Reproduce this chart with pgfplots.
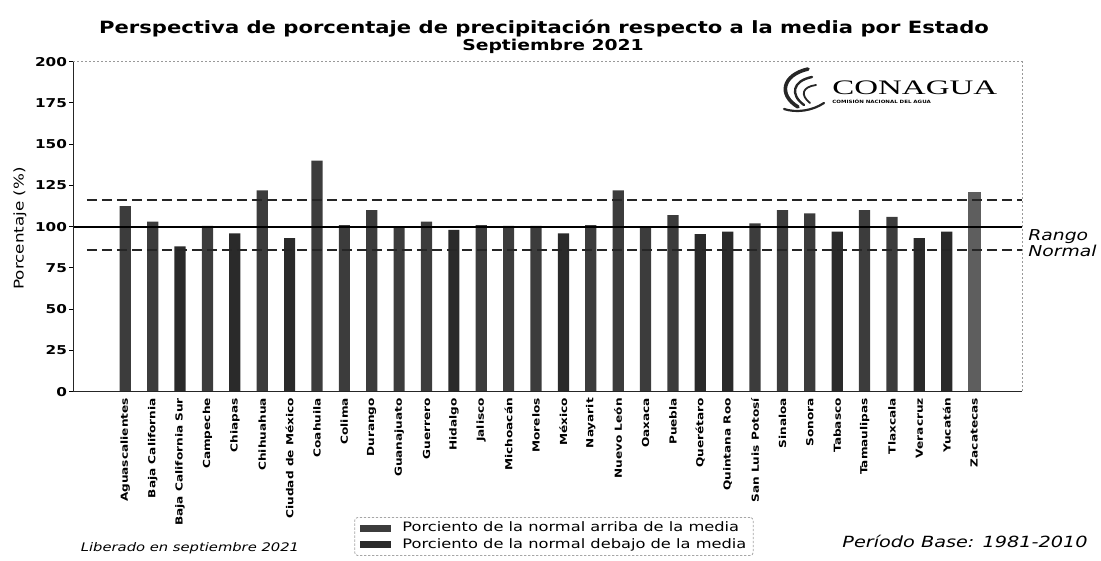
\documentclass[border=0pt]{standalone}
\usepackage{fontspec}
\setmainfont{DejaVu Sans}[FakeStretch=1.25]
\newfontfamily\logofont{Liberation Serif}[FakeStretch=1.6]
\usepackage{pgfplots}
\pgfplotsset{compat=1.18}
\definecolor{arriba}{HTML}{3C3C3C}
\definecolor{debajo}{HTML}{2A2A2A}
\definecolor{zac}{HTML}{5E5E5E}
\newcommand{\fsz}[1]{\fontsize{#1}{#1}\selectfont}
\begin{document}
\begin{tikzpicture}
\useasboundingbox (0,0) rectangle (550.5pt,280.5pt);
\begin{axis}[
 at={(36.65pt,84.65pt)}, anchor=south west,
 scale only axis, width=474.35pt, height=165pt,
 xmin=-1.9, xmax=32.75, ymin=0, ymax=200,
 axis line style={draw=none},
 xtick={0,...,31},
 xticklabels={Aguascalientes,Baja California,Baja California Sur,Campeche,Chiapas,Chihuahua,Ciudad de México,Coahuila,Colima,Durango,Guanajuato,Guerrero,Hidalgo,Jalisco,Michoacán,Morelos,México,Nayarit,Nuevo León,Oaxaca,Puebla,Querétaro,Quintana Roo,San Luis Potosí,Sinaloa,Sonora,Tabasco,Tamaulipas,Tlaxcala,Veracruz,Yucatán,Zacatecas},
 xticklabel style={rotate=90, anchor=east, font=\fsz{4.85}\bfseries, inner sep=1pt},
 ytick={0,25,...,200},
 yticklabels={0,25,50,75,100,125,150,175,200},
 yticklabel style={font=\fsz{6.1}\bfseries, inner sep=1pt},
 tick align=outside, major tick length=2pt,
 xtick style={draw=none}, ytick style={black, line width=0.5pt},
 xtick pos=left, ytick pos=left,
 clip=false,
 legend style={at={(0.5066,-0.38)}, anchor=north, font=\fsz{6.5},
   draw=gray!70, dash pattern=on 1.2pt off 0.8pt, line width=0.4pt,
   rounded corners=1.5pt, inner xsep=2.5pt, inner ysep=1.2pt, row sep=0pt,
   nodes={inner sep=0.9pt, text height=5pt, text depth=1.5pt},
   /tikz/every odd column/.append style={column sep=5pt}},
 legend cell align=left,
 legend image code/.code={\fill[#1, sharp corners] (0pt,-1.75pt) rectangle (15.5pt,1.75pt);},
]
\addplot[ybar, bar width=5.6pt, fill=arriba, draw=none] coordinates {
 (0,112.5) (1,103) (3,100.5) (5,122) (7,140) (8,101) (9,110) (10,100) (11,103)
 (13,101) (14,100.5) (15,100.5) (17,101) (18,122) (19,100) (20,107) (23,102)
 (24,110) (25,108) (27,110) (28,106)};
\addlegendentry{Porciento de la normal arriba de la media}
\addplot[ybar, bar width=5.6pt, fill=debajo, draw=none] coordinates {
 (2,88) (4,96) (6,93) (12,98) (16,96) (21,95.5) (22,97) (26,97) (29,93) (30,97)};
\addlegendentry{Porciento de la normal debajo de la media}
\addplot[ybar, bar width=6.4pt, fill=zac, draw=none, forget plot] coordinates {(31,121)};
\addplot[black, line width=0.9pt, forget plot] coordinates {(-1.9,100) (32.75,100)};
\addplot[black!85, line width=0.8pt, dash pattern=on 5pt off 2.5pt, forget plot] coordinates {(-1.4,116) (32.75,116)};
\addplot[black!85, line width=0.8pt, dash pattern=on 5pt off 2.5pt, forget plot] coordinates {(-1.4,86) (32.75,86)};
\draw[black!85, line width=0.6pt] (rel axis cs:0,1) -- (rel axis cs:0,0) -- (rel axis cs:1,0);
\draw[gray!80, line width=0.4pt, dash pattern=on 1pt off 1pt] (rel axis cs:0,1) -- (rel axis cs:1,1) -- (rel axis cs:1,0);
\end{axis}
% titles
\node[anchor=base, inner sep=0, font=\fsz{8.45}\bfseries] at (272pt,263.7pt) {Perspectiva de porcentaje de precipitación respecto a la media por Estado};
\node[anchor=base, inner sep=0, font=\fsz{7.5}\bfseries] at (276.5pt,255.4pt) {Septiembre 2021};
\node[rotate=90, inner sep=0, font=\fsz{6.7}] at (10pt,166.25pt) {Porcentaje (\%)};
\node[anchor=base west, inner sep=0, font=\fsz{7.5}\itshape] at (514pt,160pt) {Rango};
\node[anchor=base west, inner sep=0, font=\fsz{7.5}\itshape] at (514pt,152pt) {Normal};
\node[anchor=base, inner sep=0, font=\fsz{7.7}\itshape] at (482.5pt,6.5pt) {Período Base: 1981-2010};
\node[anchor=base, inner sep=0, font=\fsz{5.9}\itshape] at (95pt,4.7pt) {Liberado en septiembre 2021};
% logo
\node[anchor=base west, inner sep=0, font=\logofont\fsz{10.3}] at (416pt,233.4pt) {CONAGUA};
\node[anchor=west, inner sep=0, font=\fsz{2.2}\bfseries] at (416pt,229.6pt) {COMISIÓN NACIONAL DEL AGUA};
\draw[line width=1.8pt, black!85, line cap=round] (399pt,227pt) .. controls (389pt,233pt) and (391pt,243pt) .. (404pt,246pt);
\draw[line width=1.2pt, black!85, line cap=round] (402pt,228pt) .. controls (395pt,233pt) and (396pt,240pt) .. (406pt,242pt);
\draw[line width=0.9pt, black!85, line cap=round] (405pt,229pt) .. controls (400pt,233pt) and (401pt,237pt) .. (408pt,238pt);
\draw[line width=1.1pt, black!85, line cap=round] (392pt,226pt) .. controls (398pt,224pt) and (406pt,225pt) .. (412pt,229pt);
\end{tikzpicture}
\end{document}
